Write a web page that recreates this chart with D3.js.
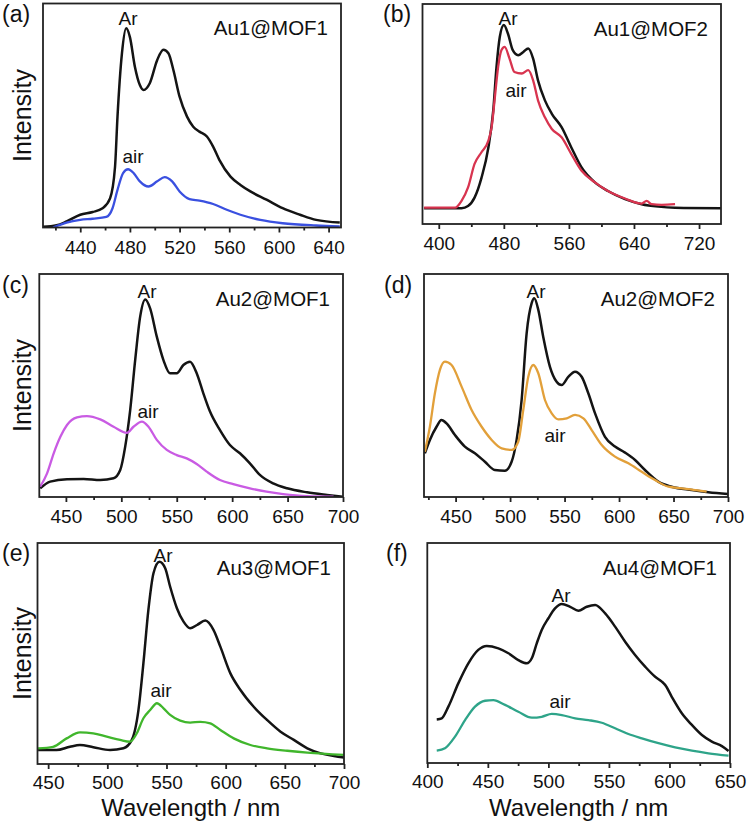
<!DOCTYPE html>
<html><head><meta charset="utf-8">
<script src="https://cdn.jsdelivr.net/npm/d3@7"></script>
<style>body{margin:0;background:#fff}</style></head>
<body><svg id="chart" width="750" height="823"></svg>
<script>
// ---------- DATA ----------
const panelLetters = ["(a)","(b)","(c)","(d)","(e)","(f)"];
const sampleNames = ["Au1@MOF1","Au1@MOF2","Au2@MOF1","Au2@MOF2","Au3@MOF1","Au4@MOF1"];
const xDomains = [[410,650],[380,747],[426,700],[421,700],[441,700],[400,650]];
const majorTicks = [[440,480,520,560,600,640],[400,480,560,640,720],[450,500,550,600,650,700],[450,500,550,600,650,700],[450,500,550,600,650,700],[400,450,500,550,600,650]];
const minorTicks = [[420,460,500,540,580,620],[440,520,600,680],[475,525,575,625,675],[425,475,525,575,625,675],[475,525,575,625,675],[425,475,525,575,625]];
const airColors = ["#3a50e0","#d8344f","#c95be3","#e2a03a","#40b62c","#2ea489"];

// (a) Au1@MOF1
const aArWl = [410,421,429,440,450,458,464,468,470,473.6,477,480,484,488,491,496,502,507,511,515,520,526,531,536,542,547,552,561,569,577,590,603,617,630,649];
const aArI  = [0.3,1,2.7,5.7,6.9,8.6,13,27,49.5,77.8,88.9,85,71.8,63.6,61.4,64.4,74.8,79.3,77.8,70.3,58.4,49.5,45,42.8,40.6,36.1,30.2,22.7,19,16.1,12.4,8.6,5.7,3.4,2.2];
const aAirWl = [418,429,440,450,461,466,470,474.5,478.5,483,488,495,502,508,514,520,528,536,547,558,569,585,603,630,649];
const aAirI  = [0,2.2,3.4,3.9,4.7,8.6,16.8,24.3,26,24.3,20.6,18.3,20.6,22.5,20.6,16.1,12.7,12,10.5,7.9,5.7,3.4,1.9,0.9,0.5];
// (b) Au1@MOF2
const bArWl = [382,428,436,444,452.5,461,467,471,475,480,485,491,497.6,504,510,516,522,530.5,539,551,563,575.6,592,608,629,649.5,670,690.5,747];
const bArI  = [7.2,7.2,8.2,12,21,34.8,51.6,71.4,85,90.4,86.6,79,76.7,78.2,79.8,75.2,65.3,56.2,50.1,44,34.8,25.7,18.9,15,11.3,9,7.9,7.4,7.2];
const bAirWl = [382,420,428,436,444,452.5,461,465,469,473,477,481,487,493,502,510,516,522,530.5,539,551,563,575.6,592,608,629,649.5,655.6,661.7,674,690.5];
const bAirI  = [7.4,7.4,10.5,16.6,27.3,32.6,37.9,44,57.7,71.4,79,80.5,75.2,69.1,68.4,69.9,65.3,56.2,48.5,43.2,39.4,31.8,24.2,18.9,15,11.6,9.3,10.5,9,8.7,9];
// (c) Au2@MOF1
const cArWl = [426.8,435.8,451,466,481,493,499,503.5,508,512.5,517,521.6,526,532,538,544,550,556,562,568,574,580,589,598,607,616,625,637,649.5,667.5,685.6,699.5];
const cArI  = [3.9,6.9,8,8.1,7.6,8.4,12.1,22.6,39,61.4,80.9,88.6,84.6,71.9,61.4,55.5,55.5,59.2,60.7,55.5,46.5,38.3,30,23.3,19.6,15.1,9.9,6.1,3.9,2.1,0.9,0.1];
const cAirWl = [426.8,433,439,445,451,460,469,481,493,505,511,518.6,524.5,532,541,550,559,568,577,589,601,616,631,646,667.5,691.5];
const cAirI  = [4.6,10.6,19.6,27,32.3,35.7,36.3,34.8,31.5,28.8,31.5,33.8,31.5,25.6,21.1,18.8,17.3,14.8,11.4,7.6,5.8,3.9,2.4,1.3,0.4,0.2];
// (d) Au2@MOF2
const dArWl = [421.8,426.4,432.5,437,441.7,449.4,458.5,467.7,476.9,486,495.2,501.4,506,510.6,515.2,519.8,522.2,525.9,530.4,536.6,542.7,547.3,553.4,559.6,565.7,571.8,578,587.1,596.3,605.5,614.7,623.8,636,648.3,666.7,682,700];
const dArI  = [19.6,25.6,31.5,34.5,33,27.8,22.6,19.6,15.8,12.1,11.8,15.8,25.6,43.5,73.4,86.9,89.1,83.9,71.9,58.4,51.7,50.2,53.9,56.2,53.9,46.5,37.5,27,22.6,19.9,16.6,12.1,6.9,4.6,3.1,2.1,1.3];
const dAirWl = [421.8,426.4,431,435.6,440.2,446.3,455.5,464.7,473.9,483.1,492.3,501.4,507.5,512.1,516.7,521.3,525.9,532,538.2,544.3,552,559.6,567.3,574.9,584.1,596.3,608.6,620.8,633,645.3,657.5,669.7,680.4];
const dAirI  = [20.3,31.5,46.5,57,60.7,59.2,49.5,39,31.5,25.6,21.8,21.1,24.8,39,53.9,59.2,55.5,43.5,37.5,34.8,35.3,36.8,35.3,30,23.3,18.1,15.1,11.3,7.6,4.6,3.9,3.1,2.4];
// (e) Au3@MOF1
const eArWl = [441.5,457,468.4,476.9,488.1,502.3,513.6,520.7,526.3,530.5,534.7,539,544,548.9,553.1,558.8,564.4,570,575.8,582.8,589.8,595.5,604,612.5,623.7,635,646.4,657.6,669,680.3,691.5,700];
const eArI  = [6.3,6.3,7.8,8.6,7.6,6.3,7.1,10.9,24.4,45.6,69.7,86.3,91.5,88.6,80.2,70.5,64.4,61.4,62.9,64.9,60.6,53.1,41,33.5,25.9,19.9,14.6,10.9,7.1,4.8,3.6,2.9];
const eAirWl = [441.5,454.2,465.6,476.9,488.1,499.5,510.8,519.2,524.9,530.5,536.2,541.9,547.5,553.1,561.6,570,578.5,587,595.5,606.8,620.9,635,652,669,700];
const eAirI  = [7.1,7.8,11.6,14.3,13.9,12.4,10.9,10.1,13.9,20.7,24.4,27.5,25.2,22.2,19.6,18.7,19.1,18.4,15.4,11.6,8.6,7.1,6,5.1,4.1];
// (f) Au4@MOF1
const fArWl = [407.8,411.9,417.4,425.6,433.9,442.1,449.1,458.7,467,475.2,482.1,486.3,490.4,494.5,500,505.5,511.1,518,524.8,531.7,538.6,546.9,555.1,563.4,571.6,579.9,588.2,593.7,596.4,601.9,610.2,618.5,626.8,635,643.3,648.8];
const fArI  = [19.8,20.3,25.6,36.2,45.3,51.4,53.2,52.1,49.9,46.8,45.3,47.6,54.4,60.5,65.8,70.3,72.3,71,69.2,71,71.8,68,62,55.1,49.1,43.8,39.2,37,35.5,30.1,22.6,17.3,12.7,9.7,7.7,5.5];
const fAirWl = [407.8,414.6,422.9,431.2,439.4,447.7,454.5,464.2,475.2,486.3,494.5,502.8,511.1,522.1,533.1,544.1,555.1,566.1,577.2,590.9,604.7,618.5,632.2,648.8];
const fAirI  = [5.6,6.7,12,19.5,25.6,28.3,28.6,26.4,23.3,20.6,21,22.3,21.8,20.3,19.5,18.3,15.8,13.2,11.2,9,7.1,5.6,4.4,3.3];

const arSeries  = [[aArWl,aArI],[bArWl,bArI],[cArWl,cArI],[dArWl,dArI],[eArWl,eArI],[fArWl,fArI]];
const airSeries = [[aAirWl,aAirI],[bAirWl,bAirI],[cAirWl,cAirI],[dAirWl,dAirI],[eAirWl,eAirI],[fAirWl,fAirI]];

// ---------- LAYOUT ----------
const boxes = [
  {l:43, t:3.5, r:341, b:227.5},
  {l:422.5, t:4, r:721, b:224},
  {l:39.3, t:274, r:343, b:497},
  {l:424, t:274, r:728, b:497},
  {l:37.5, t:543, r:344, b:764},
  {l:427.3, t:543, r:730, b:763}
];
const arLabelPos  = [[128,25],[508,25],[147,298],[536,298],[163,562],[561,602]];
const airLabelPos = [[133,163],[516,97],[148,418],[555,442],[161,697],[560,708]];
const letterPos = [[2,22],[383,22],[2,293],[384,293],[2,561],[386,561]];

const FONT = "'Liberation Sans', Arial, Helvetica, sans-serif";
const svg = d3.select("#chart").style("font-family", FONT);

boxes.forEach((bx, i) => {
  const x = d3.scaleLinear().domain(xDomains[i]).range([bx.l, bx.r]);
  const y = d3.scaleLinear().domain([0,100]).range([bx.b, bx.t]);
  const g = svg.append("g");
  const cid = "clip"+i;
  g.append("clipPath").attr("id", cid).append("rect")
    .attr("x", bx.l).attr("y", bx.t).attr("width", bx.r-bx.l).attr("height", bx.b-bx.t);

  const line = d3.line().x(d=>x(d[0])).y(d=>y(d[1])).curve(d3.curveMonotoneX);
  const toPts = s => s[0].map((w,k)=>[w, s[1][k]]);

  g.append("path").attr("clip-path",`url(#${cid})`).attr("d", line(toPts(arSeries[i])))
    .attr("fill","none").attr("stroke","#141414").attr("stroke-width",2.5).attr("stroke-linejoin","round");
  g.append("path").attr("clip-path",`url(#${cid})`).attr("d", line(toPts(airSeries[i])))
    .attr("fill","none").attr("stroke",airColors[i]).attr("stroke-width",2.3).attr("stroke-linejoin","round");

  // minor ticks
  const axMinor = d3.axisBottom(x).tickValues(minorTicks[i]).tickSize(3).tickFormat("");
  const gm = g.append("g").attr("transform",`translate(0,${bx.b})`).call(axMinor);
  gm.select(".domain").remove();
  gm.selectAll("line").attr("stroke","#222").attr("stroke-width",1.8);
  // major ticks
  const labelOffset = i >= 4 ? 25 : 26;
  const axMajor = d3.axisBottom(x).tickValues(majorTicks[i]).tickSize(5).tickPadding(6).tickFormat(d3.format("d"));
  const ga = g.append("g").attr("transform",`translate(0,${bx.b})`).call(axMajor);
  ga.select(".domain").remove();
  ga.selectAll("line").attr("stroke","#222").attr("stroke-width",1.8);
  ga.selectAll("text").attr("font-family",FONT).attr("font-size",19).attr("fill","#111").attr("dy",null).attr("y",labelOffset);

  // frame
  g.append("rect").attr("x",bx.l).attr("y",bx.t).attr("width",bx.r-bx.l).attr("height",bx.b-bx.t)
    .attr("fill","none").attr("stroke","#222").attr("stroke-width",1.8);

  // texts
  g.append("text").attr("x",letterPos[i][0]).attr("y",letterPos[i][1]).attr("font-size",23).attr("fill","#111").text(panelLetters[i]);
  g.append("text").attr("x",bx.r-13).attr("y",bx.t+31.5).attr("text-anchor","end").attr("font-size",20.5).attr("fill","#111").text(sampleNames[i]);
  g.append("text").attr("x",arLabelPos[i][0]).attr("y",arLabelPos[i][1]).attr("text-anchor","middle").attr("font-size",19).attr("fill","#111").text("Ar");
  g.append("text").attr("x",airLabelPos[i][0]).attr("y",airLabelPos[i][1]).attr("text-anchor","middle").attr("font-size",19).attr("fill","#111").text("air");

  if (i % 2 === 0) {
    const cy = (bx.t + bx.b)/2;
    g.append("text").attr("transform",`translate(31,${cy}) rotate(-90)`).attr("text-anchor","middle")
      .attr("font-size",25).attr("fill","#111").text("Intensity");
  }
  if (i >= 4) {
    g.append("text").attr("x",(bx.l+bx.r)/2).attr("y",816).attr("text-anchor","middle")
      .attr("font-size",24).attr("fill","#111").text("Wavelength / nm");
  }
});
</script>
</body></html>
